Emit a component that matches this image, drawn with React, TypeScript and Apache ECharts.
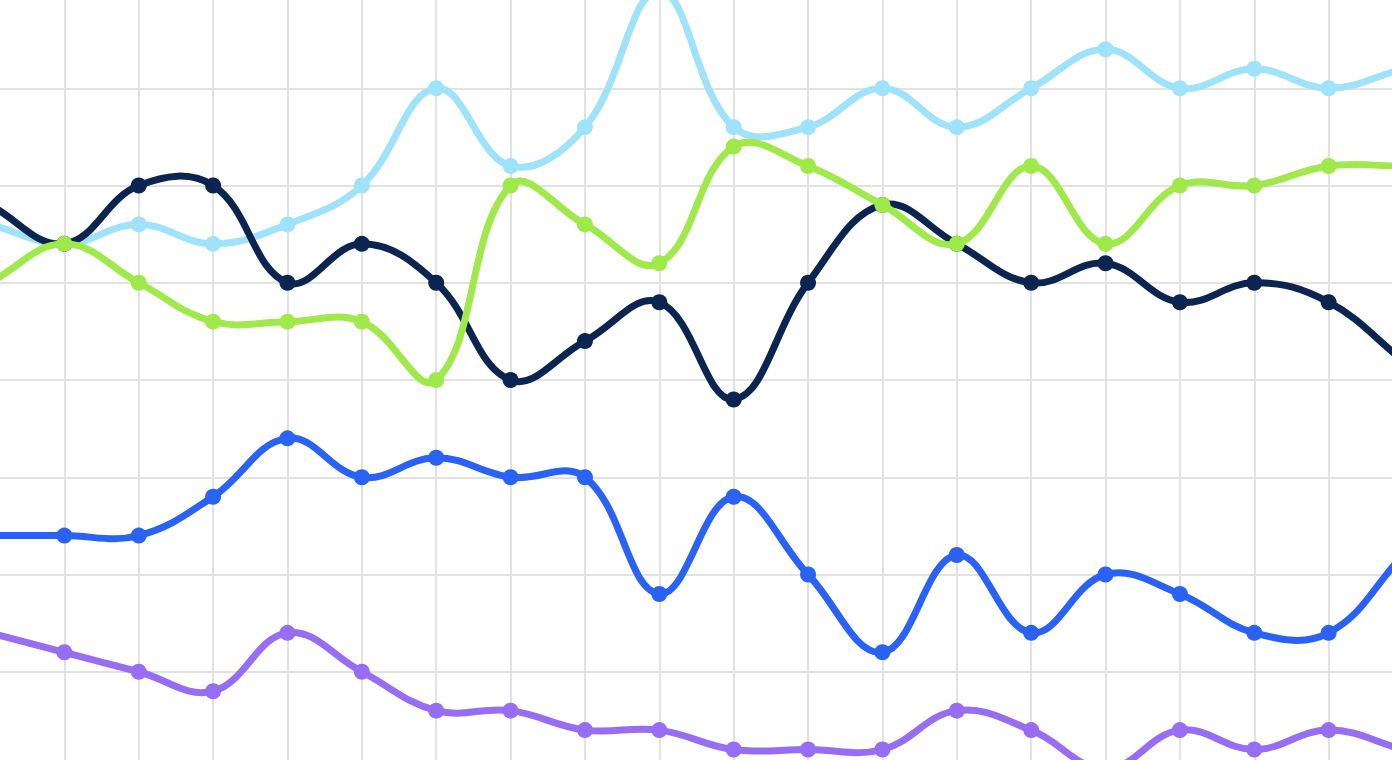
import React, { useEffect, useRef } from "react";
import * as echarts from "echarts";

const categories = ["P1", "P2", "P3", "P4", "P5", "P6", "P7", "P8", "P9", "P10", "P11", "P12", "P13", "P14", "P15", "P16", "P17", "P18", "P19", "P20"];

const skyValues = [5.6, 5.4, 5.6, 5.4, 5.6, 6, 7, 6.2, 6.6, 8, 6.6, 6.6, 7, 6.6, 7, 7.4, 7, 7.2, 7, 7.2];
const navyValues = [5.8, 5.4, 6, 6, 5, 5.4, 5, 4, 4.4, 4.8, 3.8, 5, 5.8, 5.4, 5, 5.2, 4.8, 5, 4.8, 4.2];
const limeValues = [5, 5.4, 5, 4.6, 4.6, 4.6, 4, 6, 5.6, 5.2, 6.4, 6.2, 5.8, 5.4, 6.2, 5.4, 6, 6, 6.2, 6.2];
const blueValues = [2.4, 2.4, 2.4, 2.8, 3.4, 3, 3.2, 3, 3, 1.8, 2.8, 2, 1.2, 2.2, 1.4, 2, 1.8, 1.4, 1.4, 2.2];
const violetValues = [1.4, 1.2, 1, 0.8, 1.4, 1, 0.6, 0.6, 0.4, 0.4, 0.2, 0.2, 0.2, 0.6, 0.4, 0, 0.4, 0.2, 0.4, 0.2];

const seriesDefs = [
  { name: "Sky", color: "#9fe3fb", data: skyValues },
  { name: "Navy", color: "#0c2550", data: navyValues },
  { name: "Lime", color: "#a0e94a", data: limeValues },
  { name: "Blue", color: "#2962f5", data: blueValues },
  { name: "Violet", color: "#976ef3", data: violetValues },
];

const TENSION = 0.4;

function makeRenderItem(values: number[], color: string) {
  return (params: any, api: any) => {
    const i = params.dataIndex;
    const n = values.length;
    const pts = values.map((v, j) => api.coord([j, v]));
    const cps = pts.map((cur: number[], j: number) => {
      const prev = pts[Math.max(0, j - 1)];
      const next = pts[Math.min(n - 1, j + 1)];
      const d01 = Math.hypot(cur[0] - prev[0], cur[1] - prev[1]);
      const d12 = Math.hypot(next[0] - cur[0], next[1] - cur[1]);
      const sum = d01 + d12 || 1;
      const fa = (TENSION * d01) / sum;
      const fb = (TENSION * d12) / sum;
      const vx = next[0] - prev[0];
      const vy = next[1] - prev[1];
      return {
        px: cur[0] - fa * vx,
        py: cur[1] - fa * vy,
        nx: cur[0] + fb * vx,
        ny: cur[1] + fb * vy,
      };
    });
    const children: any[] = [];
    if (i < n - 1) {
      const a = pts[i];
      const b = pts[i + 1];
      children.push({
        type: "bezierCurve",
        shape: {
          x1: a[0],
          y1: a[1],
          cpx1: cps[i].nx,
          cpy1: cps[i].ny,
          cpx2: cps[i + 1].px,
          cpy2: cps[i + 1].py,
          x2: b[0],
          y2: b[1],
        },
        style: { stroke: color, lineWidth: 7, fill: null, lineCap: "round" },
      });
    }
    children.push({
      type: "circle",
      shape: { cx: pts[i][0], cy: pts[i][1], r: 8 },
      style: { fill: color, stroke: null },
    });
    return { type: "group", children };
  };
}

export default function App() {
  const ref = useRef<HTMLDivElement>(null);
  useEffect(() => {
    if (!ref.current) return;
    const chart = echarts.init(ref.current, undefined, { renderer: "svg" });
    chart.setOption({
      animation: false,
      backgroundColor: "#ffffff",
      grid: { left: 0, right: 0, top: 0, bottom: 0, containLabel: false },
      xAxis: {
        type: "category",
        data: categories,
        boundaryGap: false,
        axisLine: { show: false },
        axisTick: { show: false },
        axisLabel: { show: false },
        splitLine: { show: true, interval: 0, lineStyle: { color: "#e2e2e2", width: 2 } },
      },
      yAxis: {
        type: "value",
        min: 0,
        max: 8,
        interval: 1,
        axisLine: { show: false },
        axisTick: { show: false },
        axisLabel: { show: false },
        splitLine: { show: true, lineStyle: { color: "#e2e2e2", width: 2 } },
      },
      series: seriesDefs.map((s) => ({
        name: s.name,
        type: "custom",
        clip: false,
        data: s.data.map((v, j) => [j, v]),
        encode: { x: 0, y: 1 },
        renderItem: makeRenderItem(s.data, s.color),
        emphasis: { disabled: true },
      })),
    });
    return () => chart.dispose();
  }, []);
  return (
    <div
      ref={ref}
      style={{ position: "fixed", left: -10.4, top: -9.5, width: 1413, height: 778 }}
    />
  );
}
